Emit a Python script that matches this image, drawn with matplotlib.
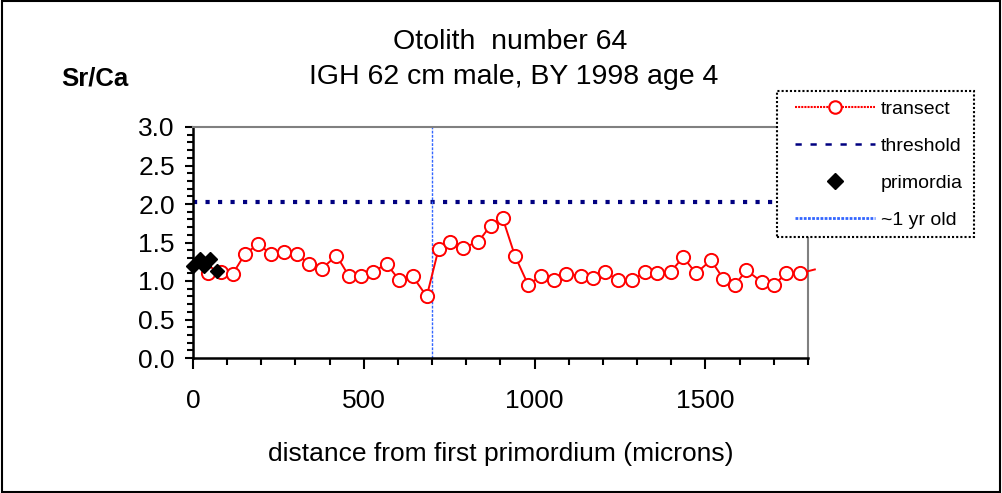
import matplotlib
matplotlib.use("Agg")
import matplotlib.pyplot as plt
from matplotlib.ticker import MultipleLocator, FormatStrFormatter
from matplotlib.patches import Rectangle
from matplotlib.lines import Line2D

plt.rcParams['font.family'] = ['Liberation Sans', 'DejaVu Sans']

# Data
transect_x = [45, 82, 116, 152, 191, 228, 267, 303, 340, 377, 420, 457, 491, 526, 567, 604,
              643, 684, 719, 751, 789, 835, 871, 906, 942, 981, 1020, 1057, 1092, 1135, 1170,
              1205, 1245, 1286, 1323, 1357, 1398, 1435, 1472, 1516, 1552, 1586, 1620, 1664,
              1700, 1737, 1776, 1820]
transect_y = [1.10, 1.12, 1.09, 1.35, 1.48, 1.35, 1.38, 1.35, 1.22, 1.16, 1.33, 1.06, 1.06,
              1.12, 1.22, 1.01, 1.06, 0.80, 1.42, 1.51, 1.43, 1.51, 1.72, 1.82, 1.33, 0.95,
              1.07, 1.01, 1.09, 1.07, 1.04, 1.12, 1.01, 1.01, 1.12, 1.10, 1.12, 1.31, 1.10,
              1.27, 1.03, 0.95, 1.14, 0.99, 0.95, 1.10, 1.10, 1.15]
primordia_x = [1, 20, 32, 50, 69]
primordia_y = [1.19, 1.29, 1.20, 1.29, 1.13]
threshold = 2.02
one_year_x = 700
x_range = [0, 1800]
y_range = [0.0, 3.0]
title_lines = ["Otolith  number 64", "IGH 62 cm male, BY 1998 age 4"]
legend_labels = ['transect', 'threshold', 'primordia', '~1 yr old']

W, H = 1003, 493
fig = plt.figure(figsize=(W / 100, H / 100), dpi=100)
ax = fig.add_axes([193 / W, 1 - 358 / H, (808 - 193) / W, (358 - 127) / H])

# outer border
fig.patches.append(Rectangle((0.002, 0.003), 0.995, 0.994, transform=fig.transFigure,
                             fill=False, edgecolor='black', linewidth=1.5))

n = len(transect_x)
ax.plot(transect_x, transect_y, color='red', lw=1.4, marker='o', markersize=9.5,
        markerfacecolor='white', markeredgecolor='red', markeredgewidth=1.4,
        markevery=list(range(n - 1)), clip_on=False, zorder=3)
ax.axhline(threshold, color='#000080', lw=3, linestyle=(0, (1, 2)), zorder=2)
ax.plot(primordia_x, primordia_y, linestyle='none', marker='D', markersize=7.5,
        color='black', clip_on=False, zorder=4)
ax.axvline(one_year_x, color='#3366ff', lw=1, linestyle=(0, (2, 1)), zorder=2)

ax.set_xlim(*x_range)
ax.set_ylim(*y_range)
ax.xaxis.set_major_locator(MultipleLocator(500))
ax.xaxis.set_minor_locator(MultipleLocator(100))
ax.yaxis.set_major_locator(MultipleLocator(0.5))
ax.yaxis.set_minor_locator(MultipleLocator(0.1))
ax.yaxis.set_major_formatter(FormatStrFormatter('%.1f'))
ax.tick_params(axis='both', which='major', labelsize=19, direction='out', width=1.5, color='black')
ax.tick_params(axis='x', which='major', length=8, pad=14)
ax.tick_params(axis='x', which='minor', length=5, width=1.5, direction='out')
ax.tick_params(axis='y', which='major', length=6, pad=7)
ax.tick_params(axis='y', which='minor', length=4, width=1.5, direction='out')

for s in ['left', 'bottom']:
    ax.spines[s].set_linewidth(1.8)
    ax.spines[s].set_color('black')
for s in ['top', 'right']:
    ax.spines[s].set_linewidth(1.5)
    ax.spines[s].set_color('#808080')

ax.set_xlabel('distance from first primordium (microns)', fontsize=19, labelpad=21)

fig.text(510 / W, 1 - 42 / H, title_lines[0], ha='center', va='center', fontsize=20.5)
fig.text(514 / W, 1 - 77 / H, title_lines[1], ha='center', va='center', fontsize=20.5)
fig.text(95 / W, 1 - 79 / H, 'Sr/Ca', ha='center', va='center', fontsize=18.5, fontweight='bold')

# legend proxies
h_tr = Line2D([], [], color='red', lw=1.5, linestyle=(0, (1, 0.5)), marker='o', markersize=9,
              markerfacecolor='white', markeredgecolor='red', markeredgewidth=1.5)
h_th = Line2D([], [], color='#000080', lw=1.8, linestyle=(0, (2.5, 3.5)))
h_pr = Line2D([], [], linestyle='none', marker='D', markersize=8, color='black')
h_yr = Line2D([], [], color='#3366ff', lw=2, linestyle=(0, (1, 0.5)))

leg = fig.legend(handles=[h_tr, h_th, h_pr, h_yr], labels=legend_labels, loc='upper left',
                 bbox_to_anchor=(795 / W, 1 - 100 / H), bbox_transform=fig.transFigure,
                 fontsize=14, frameon=False, numpoints=1,
                 handlelength=4.1, handletextpad=0.3, labelspacing=1.0, borderpad=0,
                 borderaxespad=0)
frame = Rectangle((777 / W, 1 - 237 / H), (974 - 777) / W, (237 - 91) / H,
                  transform=fig.transFigure, facecolor='white', edgecolor='black',
                  linewidth=1.5, linestyle=(0, (1, 1)))
frame.set_zorder(4)
fig.patches.append(frame)
leg.set_zorder(5)

fig.savefig('out.png', dpi=100)
